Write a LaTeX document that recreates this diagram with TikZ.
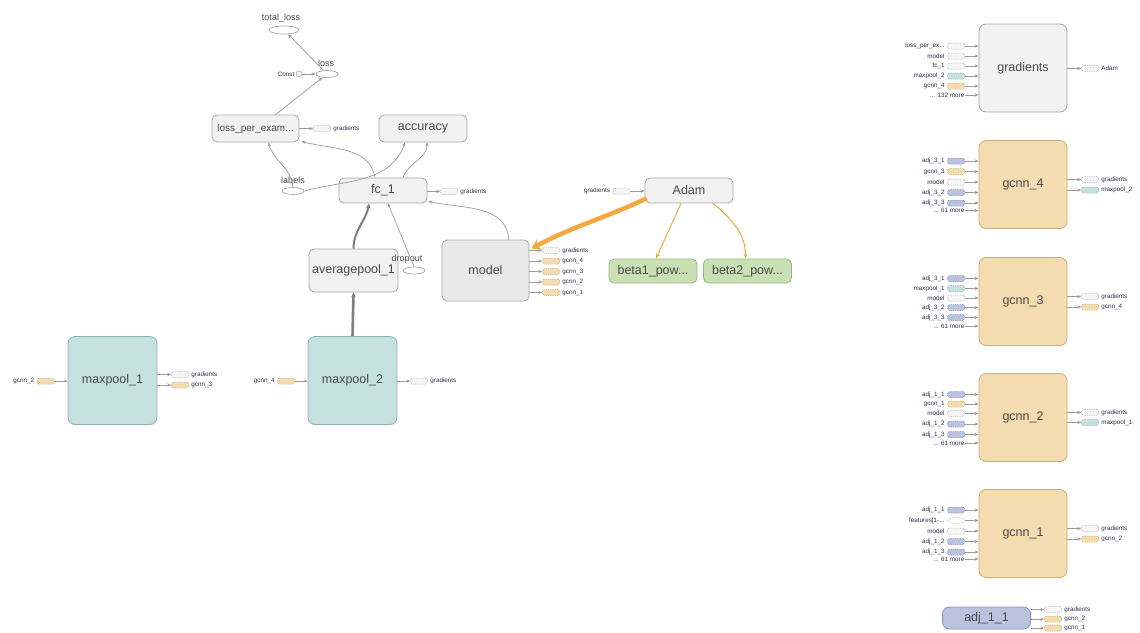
\documentclass[tikz,border=0pt]{standalone}
\usepackage{fontspec}
\setmainfont{Liberation Sans}
\usetikzlibrary{arrows.meta,calc,shapes.geometric}

\definecolor{opline}{HTML}{A8A8A8}
\definecolor{opfill}{HTML}{F1F1F1}
\definecolor{modfill}{HTML}{E9E9E9}
\definecolor{tanfill}{HTML}{F3DCB0}
\definecolor{tanline}{HTML}{C8AD7F}
\definecolor{tealfill}{HTML}{C4E0DF}
\definecolor{tealline}{HTML}{8FB3B2}
\definecolor{grnfill}{HTML}{C8E0B4}
\definecolor{grnline}{HTML}{96B97E}
\definecolor{bluefill}{HTML}{B9C3E0}
\definecolor{blueline}{HTML}{8592BD}
\definecolor{edgec}{HTML}{9C9C9C}
\definecolor{darkedge}{HTML}{7E7E7E}
\definecolor{orangec}{HTML}{F5A742}
\definecolor{txt}{HTML}{4A4A4A}
\definecolor{labtxt}{HTML}{2F2F4A}

% input stub on the left of a box: name, box, x, y, style, label
\newcommand\instub[6]{%
  \node[#5] (#1) at (#3,#4) {};
  \node[lab, anchor=east] at ($(#1.west)+(-2,0)$) {#6};
  \draw[edge] (#1.east) -- (#1.east -| #2.west);
}
% "... n more" row: name, box, x, y, text
\newcommand\morerow[5]{%
  \node[lab, anchor=east] (#1) at (#3,#4) {#5};
  \draw[edge] (#1.east) -- (#1.east -| #2.west);
}
% output stub on the right of a box: name, box, x, y, style, label
\newcommand\outstub[6]{%
  \node[#5] (#1) at (#3,#4) {};
  \node[lab, anchor=west] at ($(#1.east)+(2,0)$) {#6};
  \draw[edge] (#1.west -| #2.east) -- (#1.west);
}

\begin{document}
\begin{tikzpicture}[x=1pt,y=-1pt,
  op/.style={draw=opline, fill=opfill, rounded corners=5pt, line width=0.8pt,
    minimum width=88pt, minimum height=25pt, inner sep=0pt,
    font=\fontsize{12.5}{14}\selectfont, text=txt},
  bigop/.style={op, rounded corners=7pt, minimum height=88pt},
  tanop/.style={bigop, fill=tanfill, draw=tanline},
  tealop/.style={bigop, fill=tealfill, draw=tealline},
  grnop/.style={op, fill=grnfill, draw=grnline, minimum height=24pt},
  blueop/.style={op, fill=bluefill, draw=blueline, minimum height=22pt, rounded corners=7pt},
  ell/.style={ellipse, draw=opline, fill=white, line width=0.7pt,
    minimum width=22pt, minimum height=7pt, inner sep=0pt},
  ellab/.style={font=\fontsize{9}{10}\selectfont, text=txt, inner sep=0pt},
  lab/.style={font=\fontsize{6.3}{7}\selectfont, text=labtxt, inner sep=0.5pt},
  stub/.style={dash pattern=on 1pt off 0.8pt, rounded corners=1.5pt, line width=0.5pt,
    minimum width=17pt, minimum height=6pt, inner sep=0pt},
  gstub/.style={stub, draw=opline!80, fill=opfill!70},
  tstub/.style={stub, draw=tanline, fill=tanfill},
  cstub/.style={stub, draw=tealline, fill=tealfill},
  bstub/.style={stub, draw=blueline, fill=bluefill},
  estub/.style={stub, ellipse, draw=opline!80, fill=white},
  edge/.style={draw=edgec, line width=0.7pt, -{Stealth[length=4pt,width=3.2pt]}},
  thickedge/.style={draw=darkedge, line width=2pt, -{Stealth[length=5pt,width=4.5pt]}},
  orangeedge/.style={draw=orangec, line width=1pt, -{Stealth[length=5pt,width=4pt]}},
]
\useasboundingbox[fill=white] (0,0) rectangle (1140,632);

% ---------- loss / accuracy part ----------
\node[ell, minimum width=30pt, minimum height=8pt] (total) at (284,30) {};
\node[ellab] at (281,18) {total\_loss};
\node[ell] (loss) at (327,74) {};
\node[ellab] at (326,63) {loss};
\node[circle, draw=opline, fill=white, line width=0.6pt, minimum size=6pt, inner sep=0pt] (const) at (299,74) {};
\node[lab, anchor=east] at (295,74) {Const};

\node[op, minimum width=87pt, minimum height=27pt, font=\fontsize{10}{12}\selectfont] (lpe) at (255.5,128.5) {loss\_per\_exam...};
\outstub{lpeg}{lpe}{322}{128.5}{gstub}{gradients}
\node[op, minimum height=27pt] (acc) at (423,128.5) {accuracy};

\node[ell] (labels) at (293,191) {};
\node[ellab] at (293,180) {labels};

\node[op] (fc1) at (383,190.5) {fc\_1};
\outstub{fc1g}{fc1}{449}{191.5}{gstub}{gradients}

\node[op, minimum width=89pt, minimum height=43pt] (avg) at (353.5,270.5) {averagepool\_1};
\node[ell] (drop) at (414,270.5) {};
\node[ellab] at (407,259) {dropout};

\node[op, fill=modfill, minimum width=87pt, minimum height=61pt] (model) at (485.5,270.5) {model};
\outstub{mg}{model}{551}{250.5}{gstub}{gradients}
\outstub{mg4}{model}{551}{261}{tstub}{gcnn\_4}
\outstub{mg3}{model}{551}{271.5}{tstub}{gcnn\_3}
\outstub{mg2}{model}{551}{282}{tstub}{gcnn\_2}
\outstub{mg1}{model}{551}{292.5}{tstub}{gcnn\_1}

% ---------- optimizer ----------
\node[op] (adam) at (689,190.5) {Adam};
\instub{adamg}{adam}{621.5}{191}{gstub}{gradients}
\node[grnop] (beta1) at (653,271) {beta1\_pow...};
\node[grnop] (beta2) at (747.5,271) {beta2\_pow...};

% ---------- pooling ----------
\node[tealop, minimum width=89pt] (mp1) at (112.5,380.5) {maxpool\_1};
\instub{mp1i}{mp1}{45.5}{381}{tstub}{gcnn\_2}
\outstub{mp1g}{mp1}{180}{374.5}{gstub}{gradients}
\outstub{mp1o}{mp1}{180}{385}{tstub}{gcnn\_3}

\node[tealop, minimum width=89pt] (mp2) at (352.5,380.5) {maxpool\_2};
\instub{mp2i}{mp2}{286}{381}{tstub}{gcnn\_4}
\outstub{mp2g}{mp2}{419}{381}{gstub}{gradients}

% ---------- connectors ----------
\draw[edge] (loss) -- (total);
\draw[edge] (const) -- (loss);
\draw[edge] ($(lpe.north)+(20,0)$) -- (loss);
\draw[edge] (labels.north) to[out=95,in=-75] ($(lpe.south)+(13,0)$);
\draw[edge] ($(fc1.north)+(-8,0)$) to[out=100,in=-15] ($(lpe.south east)+(2,-1)$);
\draw[edge] (labels.east) to[out=15,in=-110] ($(acc.south)+(-18,0)$);
\draw[edge] ($(fc1.north)+(20,0)$) to[out=70,in=-90] ($(acc.south)+(4,0)$);
\draw[thickedge] (avg.north) to[out=90,in=-100] ($(fc1.south)+(-14,0)$);
\draw[edge] (drop.north) -- ($(fc1.south)+(5,0)$);
\draw[edge] ($(model.north)+(23,0)$) to[out=92,in=-12] ($(fc1.south east)+(1,-2)$);
\draw[thickedge, line width=2.6pt] (mp2.north) -- (avg.south);

\draw[orangeedge, line width=4.5pt, -{Stealth[length=9pt,width=11pt]}]
  ($(adam.south west)+(2,-5)$) to[out=205,in=28] ($(model.north east)+(2,9)$);
\draw[orangeedge] ($(adam.south)+(-8,0)$) -- ($(beta1.north)+(3,0)$);
\draw[orangeedge] ($(adam.south)+(24,0)$) to[out=-40,in=90] ($(beta2.north)+(-2,0)$);

% ---------- gradients ----------
\node[bigop, fill=opfill!90!gray!50] (grad) at (1023,68) {gradients};
\instub{gi1}{grad}{956}{46}{gstub}{loss\_per\_ex...}
\instub{gi2}{grad}{956}{56}{gstub}{model}
\instub{gi3}{grad}{956}{66}{gstub}{fc\_1}
\instub{gi4}{grad}{956}{76}{cstub}{maxpool\_2}
\instub{gi5}{grad}{956}{86}{tstub}{gcnn\_4}
\morerow{gi6}{grad}{965}{95}{... 132 more}
\outstub{go1}{grad}{1090}{68.5}{gstub}{Adam}

% ---------- gcnn_4 ----------
\node[tanop] (g4) at (1023,184.5) {gcnn\_4};
\instub{g4i1}{g4}{956}{161}{bstub}{adj\_3\_1}
\instub{g4i2}{g4}{956}{171.5}{tstub}{gcnn\_3}
\instub{g4i3}{g4}{956}{182}{gstub}{model}
\instub{g4i4}{g4}{956}{192.5}{bstub}{adj\_3\_2}
\instub{g4i5}{g4}{956}{203}{bstub}{adj\_3\_3}
\morerow{g4i6}{g4}{965}{210.5}{... 61 more}
\outstub{g4o1}{g4}{1090}{179.5}{gstub}{gradients}
\outstub{g4o2}{g4}{1090}{190}{cstub}{maxpool\_2}

% ---------- gcnn_3 ----------
\node[tanop] (g3) at (1023,301.5) {gcnn\_3};
\instub{g3i1}{g3}{956}{278.5}{bstub}{adj\_3\_1}
\instub{g3i2}{g3}{956}{288.5}{cstub}{maxpool\_1}
\instub{g3i3}{g3}{956}{298}{gstub}{model}
\instub{g3i4}{g3}{956}{307.5}{bstub}{adj\_3\_2}
\instub{g3i5}{g3}{956}{317.5}{bstub}{adj\_3\_3}
\morerow{g3i6}{g3}{965}{326}{... 61 more}
\outstub{g3o1}{g3}{1090}{296.5}{gstub}{gradients}
\outstub{g3o2}{g3}{1090}{307}{tstub}{gcnn\_4}

% ---------- gcnn_2 ----------
\node[tanop] (g2) at (1023,417.5) {gcnn\_2};
\instub{g2i1}{g2}{956}{394.5}{bstub}{adj\_1\_1}
\instub{g2i2}{g2}{956}{404}{tstub}{gcnn\_1}
\instub{g2i3}{g2}{956}{413.5}{gstub}{model}
\instub{g2i4}{g2}{956}{424}{bstub}{adj\_1\_2}
\instub{g2i5}{g2}{956}{434.5}{bstub}{adj\_1\_3}
\morerow{g2i6}{g2}{965}{443}{... 61 more}
\outstub{g2o1}{g2}{1090}{412.5}{gstub}{gradients}
\outstub{g2o2}{g2}{1090}{422.5}{cstub}{maxpool\_1}

% ---------- gcnn_1 ----------
\node[tanop] (g1) at (1023,533.5) {gcnn\_1};
\instub{g1i1}{g1}{956}{510}{bstub}{adj\_1\_1}
\instub{g1i2}{g1}{956}{520.5}{estub}{features[1-...}
\instub{g1i3}{g1}{956}{531}{gstub}{model}
\instub{g1i4}{g1}{956}{541.5}{bstub}{adj\_1\_2}
\instub{g1i5}{g1}{956}{552}{bstub}{adj\_1\_3}
\morerow{g1i6}{g1}{965}{559}{... 61 more}
\outstub{g1o1}{g1}{1090}{528.5}{gstub}{gradients}
\outstub{g1o2}{g1}{1090}{539}{tstub}{gcnn\_2}

% ---------- adj_1_1 ----------
\node[blueop] (adj) at (986.5,618) {adj\_1\_1};
\outstub{ao1}{adj}{1053}{609.5}{gstub}{gradients}
\outstub{ao2}{adj}{1053}{619}{tstub}{gcnn\_2}
\outstub{ao3}{adj}{1053}{628}{tstub}{gcnn\_1}

\end{tikzpicture}
\end{document}
